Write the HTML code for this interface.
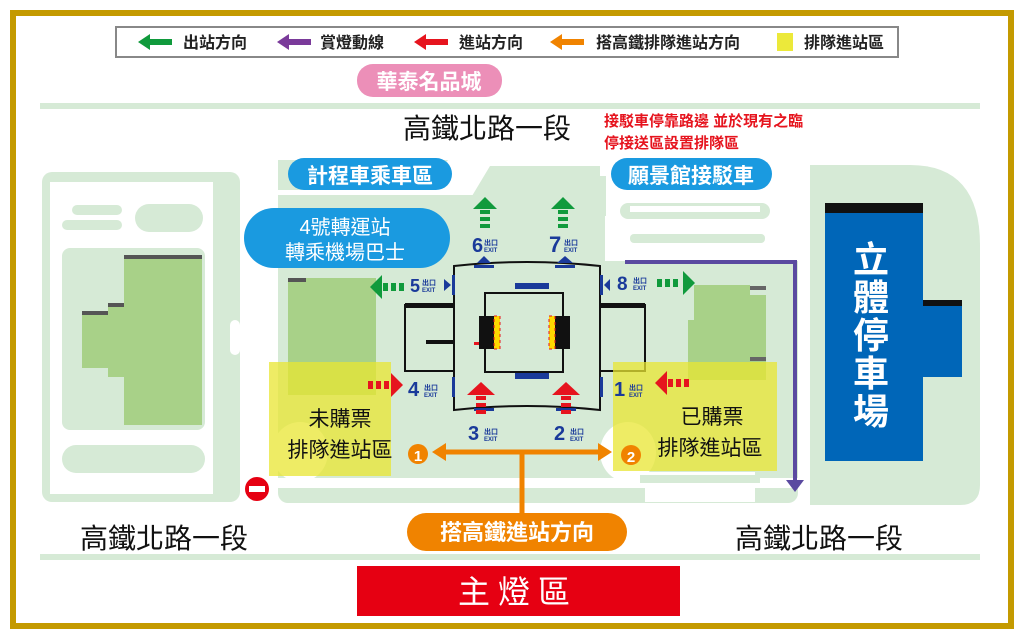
<!DOCTYPE html>
<html><head><meta charset="utf-8"><style>
html,body{margin:0;padding:0;background:#fff}
svg{display:block}
text{font-family:"Liberation Sans","Noto Sans CJK TC",sans-serif}
</style></head><body>
<svg width="1024" height="639" viewBox="0 0 1024 639" xmlns="http://www.w3.org/2000/svg">
<rect x="0" y="0" width="1024" height="639" fill="#fff"/>
<rect x="13" y="13" width="998" height="613" fill="none" stroke="#c49a00" stroke-width="6"/>

<!-- legend -->
<rect x="116" y="27" width="782" height="30" fill="#fff" stroke="#888" stroke-width="2"/>
<g font-size="16" font-weight="bold" fill="#222">
<path d="M138,42 l12,-8 v5 h22 v6 h-22 v5z" fill="#109a3c"/><text x="183" y="48">出站方向</text>
<path d="M277,42 l12,-8 v5 h22 v6 h-22 v5z" fill="#7a3a9a"/><text x="320" y="48">賞燈動線</text>
<path d="M414,42 l12,-8 v5 h22 v6 h-22 v5z" fill="#e6141e"/><text x="459" y="48">進站方向</text>
<path d="M550,42 l12,-8 v5 h22 v6 h-22 v5z" fill="#f08300"/><text x="596" y="48">搭高鐵排隊進站方向</text>
<rect x="777" y="33" width="16" height="18" fill="#ece93a"/><text x="804" y="48">排隊進站區</text>
</g>
<rect x="357" y="64" width="145" height="33" rx="16" fill="#ec8fb8"/>
<text x="429" y="89" font-size="21" font-weight="bold" fill="#fff" text-anchor="middle">華泰名品城</text>

<!-- roads -->
<rect x="40" y="103" width="940" height="6" fill="#d6ead6"/>
<rect x="40" y="554" width="940" height="6" fill="#d6ead6"/>

<!-- left block -->
<rect x="42" y="172" width="198" height="330" rx="10" fill="#d6ead6"/>
<rect x="50" y="182" width="163" height="312" fill="#fff"/>
<rect x="62" y="248" width="143" height="182" rx="8" fill="#d6ead6"/>
<rect x="72" y="205" width="50" height="10" rx="5" fill="#d6ead6"/>
<rect x="62" y="220" width="60" height="10" rx="5" fill="#d6ead6"/>
<rect x="135" y="204" width="68" height="28" rx="14" fill="#d6ead6"/>
<rect x="62" y="445" width="143" height="28" rx="14" fill="#d6ead6"/>
<rect x="220" y="190" width="18" height="60" fill="#d6ead6"/>
<rect x="230" y="320" width="10" height="35" rx="5" fill="#fff"/>
<path d="M124,255 h78 v170 h-78 v-48 h-16 v-9 h-26 v-53 h26 v-8 h16z" fill="#a8d188"/>
<rect x="124" y="255" width="78" height="4" fill="#555"/>
<rect x="82" y="311" width="26" height="4" fill="#555"/>
<rect x="108" y="303" width="16" height="4" fill="#555"/>

<!-- middle area -->
<path d="M278,160 h170 l-20,30 h-150z" fill="#d6ead6"/>
<path d="M490,166 h110 v90 h-140 v-40z" fill="#d6ead6"/>
<rect x="278" y="195" width="520" height="308" rx="10" fill="#d6ead6"/>
<rect x="278" y="195" width="180" height="70" fill="#d6ead6"/>
<rect x="605" y="166" width="195" height="95" fill="#fff"/>
<rect x="620" y="203" width="150" height="16" rx="8" fill="#d6ead6"/>
<rect x="630" y="206" width="130" height="6" fill="#fff"/>
<rect x="630" y="234" width="135" height="9" rx="4" fill="#d6ead6"/>
<rect x="600" y="176" width="6" height="40" fill="#d6ead6"/>
<ellipse cx="300" cy="452" rx="28" ry="30" fill="#fff"/>
<ellipse cx="628" cy="452" rx="28" ry="30" fill="#fff"/>
<rect x="278" y="478" width="520" height="10" fill="#fff"/>
<rect x="330" y="470" width="90" height="8" fill="#d6ead6"/>
<rect x="645" y="472" width="110" height="30" fill="#fff"/>
<rect x="640" y="475" width="120" height="8" fill="#d6ead6"/>

<!-- green buildings -->
<path d="M288,278 h88 v117 h-88z" fill="#a8d188"/>
<rect x="288" y="278" width="18" height="4" fill="#555"/>
<path d="M694,285 h56 v10 h16 v85 h-78 v-60 h6z" fill="#a8d188"/>
<rect x="750" y="286" width="16" height="4" fill="#666"/>
<rect x="750" y="357" width="16" height="4" fill="#666"/>

<!-- station -->
<g stroke="#111" fill="none" stroke-width="2">
<rect x="405" y="305" width="50" height="66"/>
<rect x="600" y="305" width="45" height="66"/>
<path d="M454,266 Q527,258 600,266 V410 Q527,402 454,410z" fill="#d6ead6"/>
<rect x="485" y="293" width="78" height="79"/>
</g>
<rect x="405" y="303" width="50" height="5" fill="#111"/>
<rect x="600" y="303" width="45" height="5" fill="#111"/>
<rect x="426" y="340" width="28" height="4" fill="#111"/>
<rect x="479" y="316" width="15" height="33" fill="#111"/>
<rect x="555" y="316" width="15" height="33" fill="#111"/>
<rect x="494" y="316" width="6" height="33" fill="#ffd800" stroke="#e6141e" stroke-dasharray="3 3" stroke-width="1"/>
<rect x="549" y="316" width="6" height="33" fill="#ffd800" stroke="#e6141e" stroke-dasharray="3 3" stroke-width="1"/>
<rect x="474" y="342" width="5" height="3" fill="#e6141e"/>
<g fill="#1a3a9a">
<rect x="515" y="283" width="34" height="6"/><rect x="515" y="373" width="34" height="6"/>
<rect x="474" y="265" width="20" height="3"/><rect x="555" y="265" width="20" height="3"/>
<path d="M477,263 l7,-7 7,7z"/><path d="M557,263 l8,-7 8,7z"/>
<rect x="452" y="275" width="3" height="20"/><path d="M451,285 l-7,-6 v12z"/>
<rect x="600" y="275" width="3" height="20"/><path d="M604,285 l6,-6 v12z"/>
<rect x="452" y="377" width="3" height="20"/><rect x="600" y="377" width="3" height="20"/>
<rect x="474" y="408" width="20" height="3"/><rect x="556" y="408" width="20" height="3"/>
</g>
<!-- green exit arrows -->
<g fill="#109a3c">
<path d="M485,197 l12,12 h-24z"/><rect x="480" y="210" width="10" height="4"/><rect x="480" y="217" width="10" height="4"/><rect x="480" y="224" width="10" height="4"/>
<path d="M563,197 l12,12 h-24z"/><rect x="558" y="210" width="10" height="4"/><rect x="558" y="217" width="10" height="4"/><rect x="558" y="224" width="10" height="4"/>
<path d="M370,287 l12,-12 v24z"/><rect x="383" y="283" width="5" height="8"/><rect x="391" y="283" width="5" height="8"/><rect x="399" y="283" width="5" height="8"/>
<path d="M695,283 l-12,-12 v24z"/><rect x="657" y="279" width="5" height="8"/><rect x="665" y="279" width="5" height="8"/><rect x="673" y="279" width="5" height="8"/>
</g>

<!-- yellow zones -->
<rect x="269" y="362" width="122" height="114" fill="#e8e632" fill-opacity="0.75"/>
<rect x="613" y="362" width="164" height="109" fill="#e8e632" fill-opacity="0.75"/>

<g fill="#1a3a9a" font-weight="bold">
<text x="472" y="252" font-size="20">6</text><text x="484" y="245" font-size="7">出口</text><text x="484" y="252" font-size="6">EXIT</text>
<text x="549" y="252" font-size="22">7</text><text x="564" y="245" font-size="7">出口</text><text x="564" y="252" font-size="6">EXIT</text>
<text x="410" y="292" font-size="18">5</text><text x="422" y="285" font-size="7">出口</text><text x="422" y="292" font-size="6">EXIT</text>
<text x="617" y="290" font-size="19">8</text><text x="633" y="283" font-size="7">出口</text><text x="633" y="290" font-size="6">EXIT</text>
<text x="408" y="396" font-size="20">4</text><text x="424" y="390" font-size="7">出口</text><text x="424" y="397" font-size="6">EXIT</text>
<text x="614" y="396" font-size="20">1</text><text x="629" y="390" font-size="7">出口</text><text x="629" y="397" font-size="6">EXIT</text>
<text x="468" y="440" font-size="20">3</text><text x="484" y="434" font-size="7">出口</text><text x="484" y="441" font-size="6">EXIT</text>
<text x="554" y="440" font-size="20">2</text><text x="570" y="434" font-size="7">出口</text><text x="570" y="441" font-size="6">EXIT</text>
</g>

<!-- red arrows -->
<g fill="#e6141e">
<path d="M403,385 l-12,-12 v24z"/><rect x="368" y="381" width="5" height="8"/><rect x="376" y="381" width="5" height="8"/><rect x="384" y="381" width="5" height="8"/>
<path d="M655,383 l12,-12 v24z"/><rect x="668" y="379" width="5" height="8"/><rect x="676" y="379" width="5" height="8"/><rect x="684" y="379" width="5" height="8"/>
<path d="M481,382 l14,13 h-28z"/><rect x="476" y="396" width="10" height="4"/><rect x="476" y="403" width="10" height="4"/><rect x="476" y="410" width="10" height="4"/>
<path d="M566,382 l14,13 h-28z"/><rect x="561" y="396" width="10" height="4"/><rect x="561" y="403" width="10" height="4"/><rect x="561" y="410" width="10" height="4"/>
</g>

<!-- purple line -->
<path d="M625,262 H795 V482" fill="none" stroke="#5a4aa0" stroke-width="4"/>
<path d="M786,480 l9,12 9,-12z" fill="#5a4aa0"/>

<!-- parking -->
<path d="M810,165 h100 q70,0 70,80 v240 q0,20 -20,20 h-150 z" fill="#d6ead6"/>
<rect x="825" y="203" width="98" height="258" fill="#0066b8"/>
<rect x="825" y="203" width="98" height="10" fill="#111"/>
<rect x="923" y="300" width="39" height="77" fill="#0066b8"/>
<rect x="923" y="300" width="39" height="6" fill="#111"/>
<g font-size="36" font-weight="bold" fill="#fff" text-anchor="middle">
<text x="871" y="272">立</text><text x="871" y="310">體</text><text x="871" y="348">停</text><text x="871" y="386">車</text><text x="871" y="424">場</text>
</g>

<!-- pills -->
<rect x="288" y="158" width="164" height="32" rx="16" fill="#1a9ae0"/>
<text x="370" y="183" font-size="21" font-weight="bold" fill="#fff" text-anchor="middle">計程車乘車區</text>
<rect x="611" y="158" width="161" height="32" rx="16" fill="#1a9ae0"/>
<text x="691" y="183" font-size="21" font-weight="bold" fill="#fff" text-anchor="middle">願景館接駁車</text>
<rect x="244" y="208" width="206" height="60" rx="30" fill="#1a9ae0"/>
<text x="345" y="234" font-size="20" fill="#fff" text-anchor="middle">4號轉運站</text>
<text x="345" y="259" font-size="20" fill="#fff" text-anchor="middle">轉乘機場巴士</text>

<!-- texts -->
<text x="403" y="138" font-size="28" fill="#111">高鐵北路一段</text>
<text x="604" y="126" font-size="15" font-weight="bold" fill="#e6141e">接駁車停靠路邊 並於現有之臨</text>
<text x="604" y="148" font-size="15" font-weight="bold" fill="#e6141e">停接送區設置排隊區</text>
<text x="80" y="548" font-size="28" fill="#111">高鐵北路一段</text>
<text x="735" y="548" font-size="28" fill="#111">高鐵北路一段</text>

<g font-size="21" fill="#111" text-anchor="middle">
<text x="340" y="426">未購票</text><text x="340" y="457">排隊進站區</text>
<text x="712" y="424">已購票</text><text x="710" y="455">排隊進站區</text>
</g>

<!-- orange -->
<path d="M436,452 H608 M522,452 V515" fill="none" stroke="#f08300" stroke-width="5"/>
<path d="M432,452 l14,-9 v18z" fill="#f08300"/><path d="M612,452 l-14,-9 v18z" fill="#f08300"/>
<circle cx="418" cy="454" r="10" fill="#f08300"/><text x="418" y="461" font-size="15" font-weight="bold" fill="#fff" text-anchor="middle">1</text>
<circle cx="631" cy="455" r="10" fill="#f08300"/><text x="631" y="462" font-size="15" font-weight="bold" fill="#fff" text-anchor="middle">2</text>
<rect x="407" y="513" width="220" height="38" rx="19" fill="#f08300"/>
<text x="517" y="540" font-size="22" font-weight="bold" fill="#fff" text-anchor="middle">搭高鐵進站方向</text>

<circle cx="257" cy="489" r="12" fill="#e60012"/><rect x="249" y="486" width="16" height="6" fill="#fff"/>

<rect x="357" y="566" width="323" height="50" fill="#e60012"/>
<text x="518" y="603" font-size="32" fill="#fff" text-anchor="middle" letter-spacing="8">主燈區</text>
</svg>
</body></html>
